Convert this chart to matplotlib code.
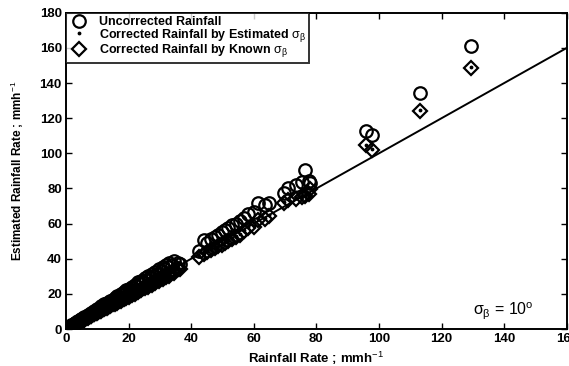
import matplotlib.pyplot as plt

plt.rcParams['font.family'] = ['Liberation Sans', 'DejaVu Sans']
plt.rcParams['mathtext.fontset'] = 'custom'
plt.rcParams['mathtext.rm'] = 'Liberation Sans'
plt.rcParams['mathtext.it'] = 'Liberation Sans'

# rain rate (x) and the three estimates (y)
rain = [0.3, 0.6, 1.0, 1.4, 1.8, 2.2, 2.7, 3.1, 3.6, 4.1,
        4.6, 5.1, 5.7, 6.3, 6.9, 7.5, 8.1, 8.8, 9.5, 10.2,
        11.0, 11.8, 12.6, 13.4, 14.3, 15.1, 16.0, 16.9, 17.8, 18.7,
        19.6, 20.5, 21.5, 22.5, 23.5, 24.6, 25.7, 26.8, 27.9, 29.0,
        30.2, 31.4, 32.6, 33.8, 35.9,
        0.5, 1.2, 2.0, 2.9, 3.8, 4.8, 5.9, 7.0, 8.0, 9.0,
        10.0, 11.3, 12.3, 13.0, 14.0, 15.5, 16.4, 17.5, 18.4, 19.3,
        20.0, 21.0, 22.0, 23.0, 24.0, 25.2, 26.3, 27.4, 28.4, 29.8,
        31.0, 32.0, 33.0, 34.5, 36.5,
        42.5, 44.0, 45.2, 46.3, 47.5, 48.6, 49.7, 50.8, 51.9, 53.0,
        54.2, 55.5, 57.0, 58.2, 60.0, 61.5, 63.5, 65.0,
        69.5, 71.0, 73.5, 75.5, 76.5, 77.5, 78.0,
        96.0, 97.8, 113.0, 129.5]

uncorrected = [0.4, 0.7, 1.1, 1.6, 2.0, 2.5, 3.0, 3.4, 4.0, 4.5,
               5.0, 5.6, 6.2, 6.9, 7.5, 8.2, 8.8, 9.6, 10.4, 11.1,
               12.0, 12.9, 13.8, 14.7, 15.7, 16.5, 17.5, 18.5, 19.5, 20.4,
               21.4, 22.4, 23.6, 24.6, 25.6, 26.9, 28.0, 29.2, 30.3, 31.5,
               32.8, 34.0, 35.2, 36.4, 37.6,
               0.6, 1.4, 2.3, 3.4, 4.4, 5.5, 6.8, 8.1, 9.2, 10.4,
               11.5, 13.0, 14.2, 15.0, 16.1, 17.8, 18.9, 20.1, 21.2, 22.2,
               23.0, 24.2, 25.3, 26.5, 27.6, 29.0, 30.2, 31.5, 32.7, 34.3,
               35.5, 36.5, 37.5, 38.5, 37.0,
               44.5, 50.5, 49.0, 51.0, 52.5, 53.5, 55.0, 56.5, 57.5, 59.0,
               60.0, 61.5, 63.0, 65.5, 66.5, 72.0, 70.5, 71.5,
               77.5, 80.0, 82.0, 83.5, 90.5, 84.0, 83.0,
               113.0, 110.5, 134.5, 161.0]

corr_known = [0.3, 0.6, 0.9, 1.3, 1.7, 2.1, 2.6, 3.0, 3.4, 3.9,
              4.4, 4.9, 5.4, 6.0, 6.6, 7.2, 7.7, 8.4, 9.1, 9.7,
              10.5, 11.3, 12.0, 12.8, 13.7, 14.5, 15.3, 16.2, 17.1, 17.9,
              18.8, 19.7, 20.6, 21.6, 22.5, 23.6, 24.6, 25.7, 26.8, 27.8,
              29.0, 30.1, 31.3, 32.4, 34.2,
              0.4, 1.1, 1.8, 2.6, 3.5, 4.4, 5.4, 6.4, 7.3, 8.3,
              9.2, 10.4, 11.3, 12.0, 12.9, 14.3, 15.1, 16.1, 16.9, 17.8,
              18.4, 19.3, 20.2, 21.2, 22.1, 23.2, 24.2, 25.2, 26.1, 27.4,
              28.5, 29.4, 30.4, 31.7, 34.0,
              41.0, 42.5, 43.8, 45.0, 46.0, 47.0, 48.0, 49.0, 50.2, 51.3,
              52.5, 53.5, 56.0, 57.5, 58.0, 62.0, 62.5, 64.5,
              72.0, 73.5, 74.0, 75.0, 75.5, 77.0, 79.5,
              104.5, 102.0, 124.0, 148.5]

corr_est = [0.3, 0.6, 1.0, 1.3, 1.7, 2.1, 2.6, 3.0, 3.5, 3.9,
            4.4, 4.9, 5.5, 6.1, 6.6, 7.3, 7.8, 8.5, 9.2, 9.8,
            10.6, 11.4, 12.1, 12.9, 13.8, 14.6, 15.4, 16.3, 17.2, 18.0,
            18.9, 19.8, 20.8, 21.8, 22.7, 23.8, 24.8, 25.9, 27.0, 28.1,
            29.3, 30.4, 31.6, 32.7, 34.5,
            0.4, 1.1, 1.9, 2.7, 3.6, 4.5, 5.5, 6.5, 7.4, 8.4,
            9.3, 10.5, 11.4, 12.1, 13.0, 14.4, 15.2, 16.2, 17.0, 17.9,
            18.5, 19.4, 20.3, 21.3, 22.2, 23.3, 24.3, 25.3, 26.2, 27.5,
            28.6, 29.5, 30.5, 31.8, 34.2,
            41.5, 43.0, 44.2, 45.4, 46.4, 47.4, 48.5, 49.5, 50.6, 51.8,
            53.0, 54.0, 56.5, 58.0, 58.5, 62.5, 63.0, 65.0,
            72.5, 74.0, 74.5, 75.5, 76.0, 77.5, 80.0,
            105.0, 102.5, 124.5, 149.0]

one_to_one = [0, 160]

fig = plt.figure(figsize=(5.69, 3.66), dpi=100)
ax = fig.add_axes([0.116, 0.101, 0.880, 0.864])

ax.plot(rain, uncorrected, 'o', mfc='none', mec='black', ms=9, mew=1.6,
        label='Uncorrected Rainfall')
ax.plot(rain, corr_est, '.', color='black', ms=3.5,
        label=r'Corrected Rainfall by Estimated $\sigma_\beta$')
ax.plot(rain, corr_known, 'D', mfc='none', mec='black', ms=7, mew=1.6,
        label=r'Corrected Rainfall by Known $\sigma_\beta$')
ax.plot(one_to_one, one_to_one, '-', color='black', lw=1.4)

ax.set_xlim(0, 160)
ax.set_ylim(0, 180)
ax.set_xticks(range(0, 161, 20))
ax.set_yticks(range(0, 181, 20))
ax.tick_params(direction='in', length=4, width=1, top=True, right=True,
               labelsize=9.5, pad=3)
for lab in ax.get_xticklabels() + ax.get_yticklabels():
    lab.set_fontweight('bold')
for sp in ax.spines.values():
    sp.set_linewidth(1.4)

ax.set_xlabel(r'Rainfall Rate ; mmh$^{-1}$', fontsize=9.5, fontweight='bold', labelpad=3)
ax.set_ylabel(r'Estimated Rainfall Rate ; mmh$^{-1}$', fontsize=8.5, fontweight='bold', labelpad=10)

ax.text(130, 8, r'$\sigma_\beta$ = 10$^{\rm o}$', fontsize=11.5)

leg = ax.legend(loc='upper left', fontsize=9, frameon=True, fancybox=False,
                edgecolor='black', borderaxespad=0, handlelength=1.6,
                labelspacing=-0.1, borderpad=0.25, handletextpad=0.8)
leg.get_frame().set_linewidth(1.4)
for t in leg.get_texts():
    t.set_fontweight('bold')

fig.savefig('out.png', dpi=100)
